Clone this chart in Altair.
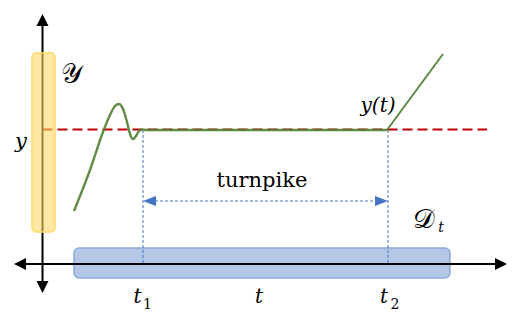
import altair as alt
import pandas as pd

# Diagram coordinates (x to the right, y downward)
curve_x = [74, 90, 103, 110, 115, 119, 123, 127, 130, 133, 136, 139, 142, 146, 387]
curve_y = [211, 170, 132, 115, 106, 104, 109, 122, 134, 139, 136, 131, 129.5, 130, 130]
rise_x = [387, 443]
rise_y = [130, 54]

X0, X1, Y0, Y1 = 8, 513, 8, 304
xs = alt.Scale(domain=[X0, X1], nice=False, zero=False)
ys = alt.Scale(domain=[Y0, Y1], nice=False, zero=False, reverse=True)

def X(f="x"):
    return alt.X(f"{f}:Q", scale=xs, axis=None)
def Y(f="y"):
    return alt.Y(f"{f}:Q", scale=ys, axis=None)

# rounded boxes
boxes = pd.DataFrame({"x": [74], "x2": [450], "y": [248], "y2": [278]})
blue_box = alt.Chart(boxes).mark_rect(cornerRadius=5, fill="#B4C7E7", stroke="#8FAADC", strokeWidth=1.5).encode(
    x=X(), x2="x2", y=Y(), y2="y2")

ybox = pd.DataFrame({"x": [32], "x2": [55], "y": [53], "y2": [232]})
yellow_box = alt.Chart(ybox).mark_rect(cornerRadius=4, fill="#FFD966", fillOpacity=0.6, stroke="#FFD966", strokeWidth=1.5).encode(
    x=X(), x2="x2", y=Y(), y2="y2")

# blue dashed verticals
vlines = pd.DataFrame({"x": [143, 388], "y": [130, 130], "y2": [264, 264]})
vdash = alt.Chart(vlines).mark_rule(color="#4472C4", strokeWidth=1, strokeDash=[3, 2]).encode(
    x=X(), y=Y(), y2="y2")

# turnpike double arrow
harr = pd.DataFrame({"x": [150], "x2": [381], "y": [201]})
hdash = alt.Chart(harr).mark_rule(color="#4472C4", strokeWidth=1, strokeDash=[3, 2]).encode(
    x=X(), x2="x2", y=Y())
heads_l = alt.Chart(pd.DataFrame({"x": [149.5], "y": [201]})).mark_point(
    shape="M-1,0L1,-0.77L1,0.77Z", size=169, filled=True, opacity=1, color="#4472C4", strokeWidth=0).encode(x=X(), y=Y())
heads_r = alt.Chart(pd.DataFrame({"x": [381.5], "y": [201]})).mark_point(
    shape="M1,0L-1,-0.77L-1,0.77Z", size=169, filled=True, opacity=1, color="#4472C4", strokeWidth=0).encode(x=X(), y=Y())

# red dashed target level
red = alt.Chart(pd.DataFrame({"x": [42.5], "x2": [487], "y": [129.5]})).mark_rule(
    color="#C00000", strokeWidth=2.2, strokeDash=[10, 5]).encode(x=X(), x2="x2", y=Y())

# green trajectory
curve = alt.Chart(pd.DataFrame({"x": curve_x, "y": curve_y})).mark_line(
    color="#548235", strokeWidth=2.4, interpolate="monotone", opacity=0.92).encode(x=X(), y=Y(), order="x:Q")
rise = alt.Chart(pd.DataFrame({"x": rise_x, "y": rise_y})).mark_line(
    color="#548235", strokeWidth=2, opacity=0.95).encode(x=X(), y=Y(), order="x:Q")

# axes
axv = alt.Chart(pd.DataFrame({"x": [42.5], "y": [22], "y2": [286]})).mark_rule(color="black", strokeWidth=2).encode(
    x=X(), y=Y(), y2="y2")
axh = alt.Chart(pd.DataFrame({"x": [22], "x2": [500], "y": [264]})).mark_rule(color="black", strokeWidth=2).encode(
    x=X(), x2="x2", y=Y())

def head(shape, x, y):
    return alt.Chart(pd.DataFrame({"x": [x], "y": [y]})).mark_point(
        shape=shape, size=144, filled=True, opacity=1, color="black", strokeWidth=0).encode(x=X(), y=Y())

up = head("M0,-1L1,1L-1,1Z", 42.5, 20)
down = head("M0,1L1,-1L-1,-1Z", 42.5, 287)
left = head("M-1,0L1,-1L1,1Z", 20, 264)
right = head("M1,0L-1,-1L-1,1Z", 501, 264)

# labels
def label(txt, x, y, size=20, style="italic", font="DejaVu Serif"):
    kw = dict(fontSize=size, font=font, align="center", baseline="alphabetic", color="black")
    if style:
        kw["fontStyle"] = style
    return alt.Chart(pd.DataFrame({"x": [x], "y": [y], "t": [txt]})).mark_text(**kw).encode(
        x=X(), y=Y(), text="t:N")

labels = [
    label("y", 21, 148, size=21),
    label("y(t)", 378, 112, size=20),
    label("t", 137.5, 303),
    label("1", 147.5, 309, size=14, style=None),
    label("t", 259, 303),
    label("t", 384, 303),
    label("2", 395, 309, size=14, style=None),
    label("𝒴", 71, 83, size=27, style=None),
    label("𝒟", 424, 228, size=27, style=None),
    label("t", 441, 232, size=14),
    label("turnpike", 262, 187, size=21, style=None),
]

chart = alt.layer(
    blue_box, vdash, hdash, heads_l, heads_r, red, curve, rise,
    axv, axh, up, down, left, right, yellow_box, *labels
).properties(width=X1 - X0, height=Y1 - Y0, padding=0).configure_view(stroke=None)

chart.save("out.html", embed_options={"renderer": "svg", "actions": False})
